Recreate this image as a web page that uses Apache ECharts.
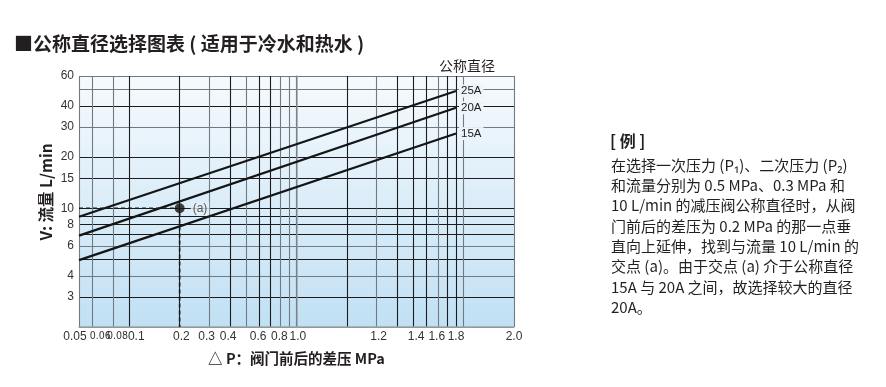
<!DOCTYPE html>
<html><head><meta charset="utf-8">
<script src="https://cdn.jsdelivr.net/npm/echarts@6/dist/echarts.min.js"></script>
<style>html,body{margin:0;padding:0;background:#fff}#c{width:886px;height:387px}</style>
</head><body><div id="c"></div>
<script>
// ---- data ----
const sizeNames = ['25A', '20A', '15A'];
const lineDp = [0.05, 9];             // ΔP axis values at the two ends of each size line
const flow25A = [8.9, 49];
const flow20A = [6.9, 39];
const flow15A = [4.95, 27.5];
const exampleDp = 0.2;
const exampleFlow = 10;
const exampleLabel = '(a)';
const xRange = [0.05, 20];
const yRange = [2, 60];
const xGridValues = [0.05, 0.06, 0.08, 0.1, 0.2, 0.3, 0.4, 0.5, 0.6, 0.7, 0.8, 0.9, 1, 2, 3, 4, 5, 6, 7, 8, 9, 10, 20];
const xLabelValues = [0.05, 0.067, 0.085, 0.11, 0.205, 0.29, 0.39, 0.59, 0.79, 1.02, 3.1, 5.2, 6.9, 9, 20];
const xLabelTexts = ['0.05', '0.06', '0.08', '0.1', '0.2', '0.3', '0.4', '0.6', '0.8', '1.0', '1.2', '1.4', '1.6', '1.8', '2.0'];
const yGridValues = [2, 3, 4, 5, 6, 7, 8, 9, 10, 15, 20, 30, 40, 50, 60];
const yLabelValues = [3, 4, 6, 8, 10, 15, 20, 30, 40, 60];
const yLabelTexts = ['3', '4', '6', '8', '10', '15', '20', '30', '40', '60'];
const titleText = '■公称直径选择图表 ( 适用于冷水和热水 )';
const xName = '△ P：阀门前后的差压 MPa';
const yName = 'V: 流量 L/min';
const legendTitle = '公称直径';
const noteTitle = '[ 例 ]';
const noteLines = [
  '在选择一次压力 (P₁)、二次压力 (P₂)',
  '和流量分别为 0.5 MPa、0.3 MPa 和',
  '10 L/min 的减压阀公称直径时，从阀',
  '门前后的差压为 0.2 MPa 的那一点垂',
  '直向上延伸，找到与流量 10 L/min 的',
  '交点 (a)。由于交点 (a) 介于公称直径',
  '15A 与 20A 之间，故选择较大的直径',
  '20A。'
];

// ---- styles ----
const DARK = '#1c1c1c', GREY = '#707a82';
const xGridColors = [GREY, GREY, GREY, DARK, DARK, GREY, DARK, GREY, DARK, DARK, GREY, GREY, DARK, DARK, GREY, DARK, DARK, DARK, GREY, DARK, DARK, GREY, GREY];
const yGridColors = [GREY, DARK, GREY, DARK, GREY, DARK, DARK, DARK, DARK, DARK, DARK, GREY, DARK, GREY, GREY];
const CJK = '"Noto Sans CJK SC", "Noto Sans", sans-serif';
const NUM = '"Liberation Sans", Arial, sans-serif';

// ---- build ----
const L = Math.log10;
const flows = [flow25A, flow20A, flow15A];
function findText(v, vals, texts) {
  let best = 0, bd = Infinity;
  vals.forEach((x, i) => { const d = Math.abs(L(x) - v); if (d < bd) { bd = d; best = i; } });
  return texts[best];
}
const lineSeries = sizeNames.map((n, k) => ({
  type: 'line', name: n, symbol: 'none', silent: true,
  data: lineDp.map((d, i) => [L(d), L(flows[k][i])]),
  lineStyle: { color: '#151515', width: 2.2 },
  endLabel: {
    show: true, formatter: n, distance: 3, color: '#222', fontSize: 11.5, fontFamily: NUM,
    backgroundColor: '#ecf5fb', padding: [1, 2, 0, 2]
  }
}));

const chart = echarts.init(document.getElementById('c'));
chart.setOption({
  animation: false,
  title: { text: titleText, left: 9, top: 29, textStyle: { fontFamily: CJK, fontSize: 19, fontWeight: 'bold', color: '#231f20' } },
  grid: {
    left: 79, right: 372, top: 76, bottom: 60, show: true, borderWidth: 0,
    backgroundColor: { type: 'linear', x: 0, y: 0, x2: 0, y2: 1, colorStops: [{ offset: 0, color: '#f6fafd' }, { offset: 1, color: '#c1e0f4' }] }
  },
  xAxis: {
    type: 'value', min: L(xRange[0]), max: L(xRange[1]),
    name: xName, nameLocation: 'middle', nameGap: 24,
    nameTextStyle: { fontFamily: CJK, fontSize: 14.5, fontWeight: 'bold', color: '#231f20' },
    axisLine: { show: true, lineStyle: { color: '#9aa4ab', width: 1.5 } },
    axisTick: { show: false, customValues: xGridValues.map(L) },
    splitLine: { show: true, lineStyle: { color: xGridColors, width: 1.1 } },
    axisLabel: {
      customValues: xLabelValues.map(L), margin: 4, color: '#333', fontFamily: NUM, fontSize: 12,
      formatter: v => {
        const t = findText(v, xLabelValues, xLabelTexts);
        if (t === '0.06' || t === '0.08') return '{s|' + t + '}';
        if (t === '0.05') return '{f|' + t + '}';
        return t;
      },
      rich: { s: { fontSize: 10.5, fontFamily: '"DejaVu Sans Condensed", "Liberation Sans Narrow", sans-serif', color: '#333' },
              f: { fontSize: 12, fontFamily: NUM, color: '#333', padding: [0, 8, 0, 0] } }
    }
  },
  yAxis: {
    type: 'value', min: L(yRange[0]), max: L(yRange[1]),
    axisLine: { show: true, lineStyle: { color: '#9aa4ab', width: 1.5 } },
    axisTick: { show: false, customValues: yGridValues.map(L) },
    splitLine: { show: true, lineStyle: { color: yGridColors, width: 1.1 } },
    axisLabel: {
      customValues: yLabelValues.map(L), margin: 5, color: '#333', fontFamily: NUM, fontSize: 12,
      formatter: v => findText(v, yLabelValues, yLabelTexts)
    }
  },
  series: [
    ...lineSeries,
    {
      type: 'line', symbol: 'none', silent: true,
      data: [[L(xRange[0]), L(exampleFlow)], [L(exampleDp), L(exampleFlow)], [L(exampleDp), L(yRange[0])]],
      lineStyle: { color: '#1a1a1a', width: 1.6, type: [4, 3] }
    },
    {
      type: 'scatter', symbolSize: 10, silent: true,
      itemStyle: { color: '#111' },
      data: [[L(exampleDp), L(exampleFlow)]],
      label: { show: true, position: 'right', distance: 6, formatter: exampleLabel, color: '#333', fontSize: 12, fontFamily: NUM,
               backgroundColor: '#e3f0f9', padding: [1, 2, 0, 2] }
    }
  ],
  graphic: [
    { type: 'text', x: 467, y: 66, style: { text: legendTitle, align: 'center', verticalAlign: 'middle', font: '14px ' + CJK, fill: '#231f20' } },
    { type: 'text', x: 46, y: 192, rotation: Math.PI / 2, style: { text: yName, align: 'center', verticalAlign: 'middle', font: 'bold 15.5px ' + CJK, fill: '#231f20' } },
    { type: 'text', x: 610, y: 141, style: { text: noteTitle, align: 'left', verticalAlign: 'middle', font: 'bold 16px ' + CJK, fill: '#231f20' } },
    { type: 'text', x: 611, y: 155, style: { text: noteLines.join('\n'), align: 'left', verticalAlign: 'top', font: '15px ' + CJK, lineHeight: 20.3, fill: '#231f20' } }
  ]
});
</script></body></html>
